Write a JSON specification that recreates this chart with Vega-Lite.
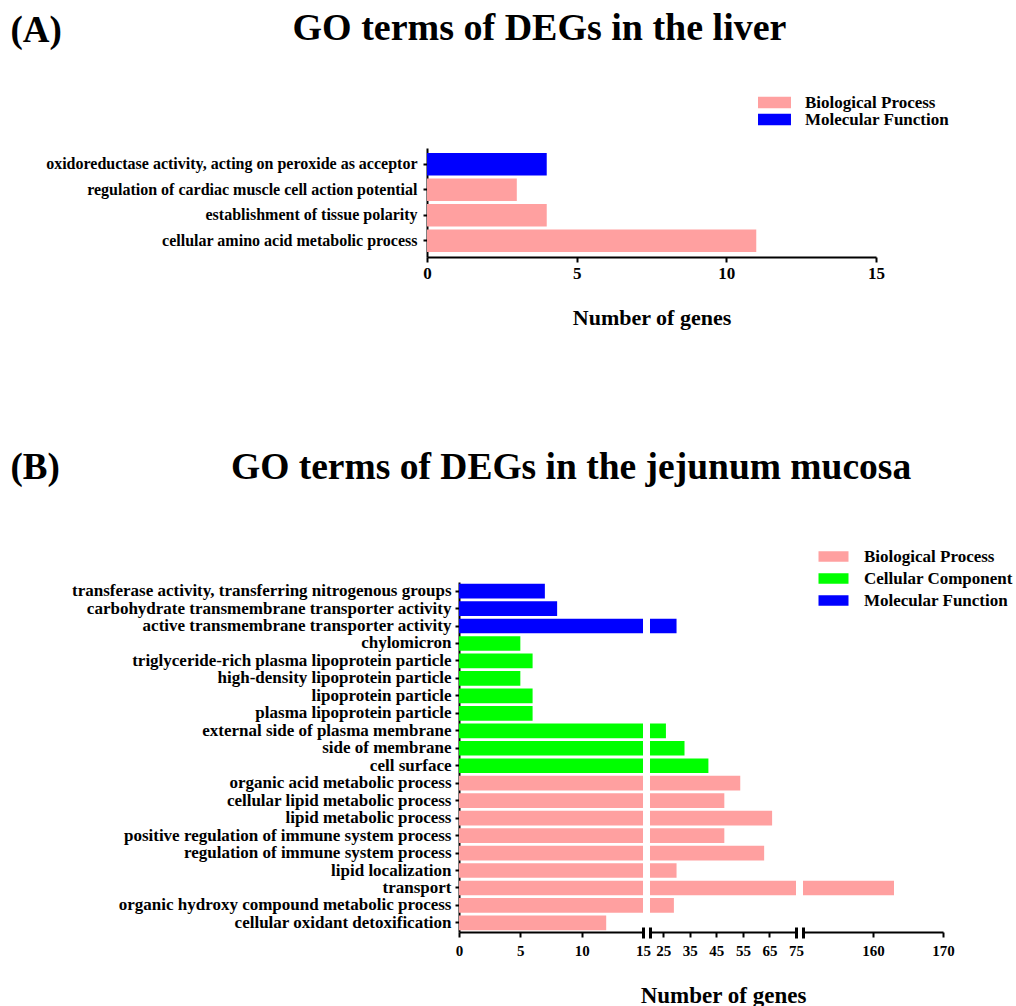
{
  "$schema": "https://vega.github.io/schema/vega-lite/v6.json",
  "background": "white",
  "padding": {"left": 10, "top": 10, "right": 0, "bottom": 0},
  "datasets": {
    "liver": [
      {"term": "oxidoreductase activity, acting on peroxide as acceptor", "category": "Molecular Function", "genes": 4},
      {"term": "regulation of cardiac muscle cell action potential", "category": "Biological Process", "genes": 3},
      {"term": "establishment of tissue polarity", "category": "Biological Process", "genes": 4},
      {"term": "cellular amino acid metabolic process", "category": "Biological Process", "genes": 11}
    ],
    "jejunum": [
      {"term": "transferase activity, transferring nitrogenous groups", "category": "Molecular Function", "genes": 7},
      {"term": "carbohydrate transmembrane transporter activity", "category": "Molecular Function", "genes": 8},
      {"term": "active transmembrane transporter activity", "category": "Molecular Function", "genes": 30},
      {"term": "chylomicron", "category": "Cellular Component", "genes": 5},
      {"term": "triglyceride-rich plasma lipoprotein particle", "category": "Cellular Component", "genes": 6},
      {"term": "high-density lipoprotein particle", "category": "Cellular Component", "genes": 5},
      {"term": "lipoprotein particle", "category": "Cellular Component", "genes": 6},
      {"term": "plasma lipoprotein particle", "category": "Cellular Component", "genes": 6},
      {"term": "external side of plasma membrane", "category": "Cellular Component", "genes": 26},
      {"term": "side of membrane", "category": "Cellular Component", "genes": 33},
      {"term": "cell surface", "category": "Cellular Component", "genes": 42},
      {"term": "organic acid metabolic process", "category": "Biological Process", "genes": 54},
      {"term": "cellular lipid metabolic process", "category": "Biological Process", "genes": 48},
      {"term": "lipid metabolic process", "category": "Biological Process", "genes": 66},
      {"term": "positive regulation of immune system process", "category": "Biological Process", "genes": 48},
      {"term": "regulation of immune system process", "category": "Biological Process", "genes": 63},
      {"term": "lipid localization", "category": "Biological Process", "genes": 30},
      {"term": "transport", "category": "Biological Process", "genes": 163},
      {"term": "organic hydroxy compound metabolic process", "category": "Biological Process", "genes": 29},
      {"term": "cellular oxidant detoxification", "category": "Biological Process", "genes": 12}
    ]
  },
  "config": {
    "view": {"stroke": null},
    "font": "Liberation Serif",
    "axis": {"labelFont": "Liberation Serif", "labelFontWeight": "bold", "labelColor": "black", "titleFont": "Liberation Serif", "titleFontWeight": "bold", "titleColor": "black", "domainColor": "black", "domainWidth": 2, "tickColor": "black", "tickWidth": 2, "grid": false},
    "legend": {"labelFont": "Liberation Serif", "labelFontWeight": "bold", "labelColor": "black"},
    "title": {"font": "Liberation Serif", "fontWeight": "bold", "color": "black", "fontSize": 38}
  },
  "vconcat": [
    {
      "data": {"name": "liver"},
      "width": 449,
      "height": 109,
      "title": {"text": "GO terms of DEGs in the liver", "anchor": "middle", "frame": "group", "dx": -112, "offset": -37},
      "mark": {"type": "bar"},
      "encoding": {
        "y": {"field": "term", "type": "nominal", "sort": null, "scale": {"paddingInner": 0.12, "paddingOuter": 0.2},
          "axis": {"title": "(A)", "titleAngle": 0, "titleX": -417, "titleY": -107, "titleAlign": "left", "titleBaseline": "alphabetic", "titleFontSize": 37, "labelFontSize": 16, "labelPadding": 6, "tickSize": 4, "labelLimit": 500}},
        "x": {"field": "genes", "type": "quantitative", "scale": {"domain": [0, 15]},
          "axis": {"values": [0, 5, 10, 15], "title": "Number of genes", "titleFontSize": 22, "labelFontSize": 17, "tickSize": 5, "labelPadding": 3, "titlePadding": 26, "labelFlush": false}},
        "color": {"field": "category", "type": "nominal",
          "scale": {"domain": ["Biological Process", "Molecular Function"], "range": ["#FFA0A0", "#0000FF"]},
          "legend": {"title": null, "orient": "none", "legendX": 339, "legendY": -54, "symbolType": "M-2,-0.7H2V0.7H-2Z", "symbolSize": 272, "labelFontSize": 17, "labelOffset": 22, "rowPadding": -2, "symbolStrokeWidth": 0, "symbolOpacity": 1}}
      }
    },
    {
      "title": {"text": "GO terms of DEGs in the jejunum mucosa", "anchor": "start", "frame": "bounds", "dx": 221, "offset": -38, "fontSize": 37.5},
      "spacing": 7,
      "bounds": "flush",
      "resolve": {"scale": {"y": "shared", "x": "independent", "color": "shared"}, "axis": {"x": "independent", "y": "independent"}},
      "hconcat": [
        {
          "data": {"name": "jejunum"},
          "width": 216,
          "height": 350,
          "resolve": {"axis": {"x": "independent"}},
          "layer": [
            {
              "mark": {"type": "bar", "clip": true},
              "encoding": {
                "y": {"field": "term", "type": "nominal", "sort": null, "scale": {"paddingInner": 0.16, "paddingOuter": 0.1},
                  "axis": {"title": "(B)", "offset": -32, "titleAngle": 0, "titleX": -449, "titleY": -104, "titleAlign": "left", "titleBaseline": "alphabetic", "titleFontSize": 37, "labelFontSize": 17, "labelPadding": 4, "tickSize": 4, "labelLimit": 500}},
                "x": {"field": "genes", "type": "quantitative", "scale": {"domain": [0, 15], "range": [32, 216]},
                  "axis": {"values": [0, 5, 10, 15], "title": null, "labelFontSize": 15, "tickSize": 5, "labelPadding": 6, "labelFlush": false}},
                "color": {"field": "category", "type": "nominal",
                  "scale": {"domain": ["Biological Process", "Cellular Component", "Molecular Function"], "range": ["#FFA0A0", "#00FF00", "#0000FF"]},
                  "legend": {"title": null, "orient": "none", "legendX": 398, "legendY": -34, "symbolType": "M-2,-0.7H2V0.7H-2Z", "symbolSize": 225, "labelFontSize": 17, "labelOffset": 22, "rowPadding": 4, "symbolStrokeWidth": 0, "symbolOpacity": 1}}
              }
            },
            {
              "mark": {"type": "bar", "opacity": 0, "clip": true},
              "encoding": {
                "x": {"field": "genes", "type": "quantitative", "scale": {"domain": [0, 15], "range": [32, 216]},
                  "axis": {"values": [15], "orient": "bottom", "offset": -5, "tickSize": 11, "tickWidth": 3, "domain": false, "labels": false, "title": null}}
              }
            }
          ]
        },
        {
          "data": {"name": "jejunum"},
          "width": 146,
          "height": 350,
          "resolve": {"axis": {"x": "independent"}},
          "layer": [
            {
              "mark": {"type": "bar", "clip": true},
              "encoding": {
                "y": {"field": "term", "type": "nominal", "sort": null, "axis": null},
                "x": {"field": "genes", "type": "quantitative", "scale": {"domain": [20, 75], "zero": false},
                  "axis": {"values": [25, 35, 45, 55, 65, 75], "title": "Number of genes", "titleFontSize": 23, "titleDx": -23, "titlePadding": 26, "labelFontSize": 15, "tickSize": 5, "labelPadding": 6, "labelFlush": false}},
                "color": {"field": "category", "type": "nominal"}
              }
            },
            {
              "mark": {"type": "bar", "opacity": 0, "clip": true},
              "encoding": {
                "x": {"field": "genes", "type": "quantitative", "scale": {"domain": [20, 75], "zero": false},
                  "axis": {"values": [20, 75], "orient": "bottom", "offset": -5, "tickSize": 11, "tickWidth": 3, "domain": false, "labels": false, "title": null}}
              }
            }
          ]
        },
        {
          "data": {"name": "jejunum"},
          "width": 140,
          "height": 350,
          "resolve": {"axis": {"x": "independent"}},
          "layer": [
            {
              "mark": {"type": "bar", "clip": true},
              "encoding": {
                "y": {"field": "term", "type": "nominal", "sort": null, "axis": null},
                "x": {"field": "genes", "type": "quantitative", "scale": {"domain": [150, 170], "zero": false},
                  "axis": {"values": [160, 170], "title": null, "labelFontSize": 15, "tickSize": 5, "labelPadding": 6, "labelFlush": false}},
                "color": {"field": "category", "type": "nominal"}
              }
            },
            {
              "mark": {"type": "bar", "opacity": 0, "clip": true},
              "encoding": {
                "x": {"field": "genes", "type": "quantitative", "scale": {"domain": [150, 170], "zero": false},
                  "axis": {"values": [150], "orient": "bottom", "offset": -5, "tickSize": 11, "tickWidth": 3, "domain": false, "labels": false, "title": null}}
              }
            }
          ]
        }
      ]
    }
  ],
  "spacing": 120,
  "resolve": {"scale": {"color": "independent", "x": "independent", "y": "independent"}, "legend": {"color": "independent"}}
}
